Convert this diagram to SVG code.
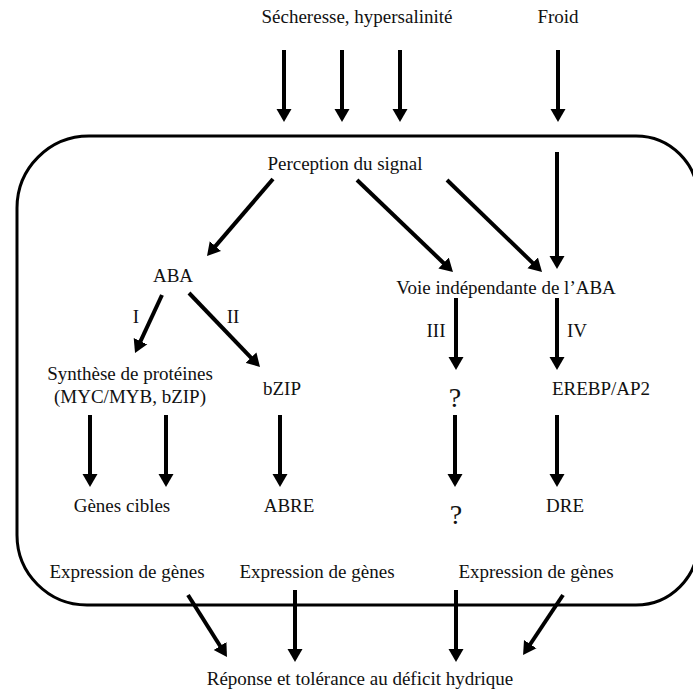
<svg xmlns="http://www.w3.org/2000/svg" width="693" height="692" viewBox="0 0 693 692">
<style>
text{font-family:"Liberation Serif","Times New Roman",serif;font-size:19px;fill:#111;text-anchor:middle}
.q{font-size:28px}
.a{stroke:#000;stroke-width:4;fill:none;marker-end:url(#h)}
.box{fill:none;stroke:#000;stroke-width:3}
</style>
<defs>
<marker id="h" markerUnits="userSpaceOnUse" markerWidth="14" markerHeight="16" viewBox="0 0 14 16" refX="1" refY="8" orient="auto">
<path d="M0,0.5 L13,8 L0,15.5 Z" fill="#000"/>
</marker>
</defs>
<rect width="693" height="692" fill="#fff"/>
<g id="cell"><path class="box" d="M89,136 H636 A62,62 0 0 1 698,198 V543 A62,62 0 0 1 636,605 H87 A70,70 0 0 1 17,535 V208 A72,72 0 0 1 89,136 Z"/></g>
<g id="connectors">
<line class="a" x1="284" y1="50" x2="284" y2="110"/>
<line class="a" x1="342" y1="50" x2="342" y2="110"/>
<line class="a" x1="400" y1="50" x2="400" y2="110"/>
<line class="a" x1="558" y1="50" x2="558" y2="110"/>
<line class="a" x1="557" y1="152" x2="557" y2="257"/>
<line class="a" x1="273" y1="179" x2="214.8" y2="246.9"/>
<line class="a" x1="357" y1="180" x2="444.3" y2="263.7"/>
<line class="a" x1="447" y1="180" x2="533.4" y2="263.6"/>
<line class="a" x1="162" y1="295" x2="140.1" y2="342.1"/>
<line class="a" x1="189" y1="293" x2="251.7" y2="358.3"/>
<line class="a" x1="456" y1="298" x2="456" y2="358"/>
<line class="a" x1="557" y1="298" x2="557" y2="358"/>
<line class="a" x1="90" y1="415" x2="90" y2="475"/>
<line class="a" x1="166" y1="415" x2="166" y2="475"/>
<line class="a" x1="280" y1="415" x2="280" y2="475"/>
<line class="a" x1="455" y1="415" x2="455" y2="475"/>
<line class="a" x1="557" y1="415" x2="557" y2="475"/>
<line class="a" x1="188" y1="595" x2="220.6" y2="646.8"/>
<line class="a" x1="295" y1="590" x2="295" y2="650"/>
<line class="a" x1="456" y1="590" x2="456" y2="650"/>
<line class="a" x1="563" y1="595" x2="529.7" y2="645"/>
</g>
<g id="n-secheresse"><text x="357" y="23">Sécheresse, hypersalinité</text></g>
<g id="n-froid"><text x="558" y="23">Froid</text></g>
<g id="n-perception"><text x="345" y="170">Perception du signal</text></g>
<g id="n-aba"><text x="173" y="282">ABA</text></g>
<g id="l-I"><text x="136" y="323">I</text></g>
<g id="l-II"><text x="233" y="323">II</text></g>
<g id="n-voie"><text x="506" y="294">Voie indépendante de l’ABA</text></g>
<g id="l-III"><text x="436" y="337">III</text></g>
<g id="l-IV"><text x="577" y="337">IV</text></g>
<g id="n-synthese"><text x="130" y="380">Synthèse de protéines</text><text x="130" y="403">(MYC/MYB, bZIP)</text></g>
<g id="n-bzip"><text x="282" y="395">bZIP</text></g>
<g id="n-q1"><text class="q" x="455" y="407">?</text></g>
<g id="n-erebp"><text x="601" y="395">EREBP/AP2</text></g>
<g id="n-genes"><text x="122" y="512">Gènes cibles</text></g>
<g id="n-abre"><text x="289" y="512">ABRE</text></g>
<g id="n-q2"><text class="q" x="456" y="524">?</text></g>
<g id="n-dre"><text x="565" y="512">DRE</text></g>
<g id="n-expr1"><text x="127" y="578">Expression de gènes</text></g>
<g id="n-expr2"><text x="317" y="578">Expression de gènes</text></g>
<g id="n-expr3"><text x="536" y="578">Expression de gènes</text></g>
<g id="n-reponse"><text x="360" y="685">Réponse et tolérance au déficit hydrique</text></g>
</svg>
